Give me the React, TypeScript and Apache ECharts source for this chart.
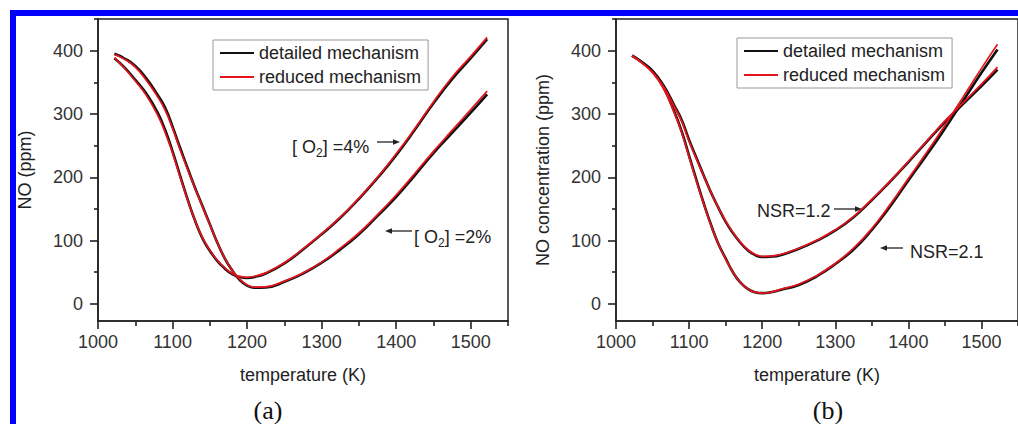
import React, { useEffect, useRef } from "react";
import * as echarts from "echarts";

// Shared temperature grid (K) for all curves
const TEMPERATURE = [
  1022, 1035, 1050, 1065, 1080, 1090, 1100, 1110, 1120, 1130, 1140, 1150, 1160, 1170, 1180, 1190,
  1200, 1210, 1225, 1250, 1275, 1300, 1325, 1350, 1375, 1400, 1425, 1450, 1475, 1500, 1522,
];

// (a) NO (ppm) at [O2] = 4 %
const O2_4_DETAILED = [
  388, 374, 354, 332, 302, 275, 241, 203, 166, 132, 104, 84, 68, 56, 47, 42.5,
  41, 42.5, 48, 64, 86, 110, 136, 166, 199, 235, 275, 317, 355, 388, 418,
];
const O2_4_REDUCED = [
  389, 373, 352, 329, 298, 271, 238, 201, 165, 132, 105, 85, 69, 57, 48, 43.5,
  42, 43.5, 49, 65, 87, 111, 137, 167, 200, 237, 277, 319, 358, 391, 421,
];
// (a) NO (ppm) at [O2] = 2 %
const O2_2_DETAILED = [
  395, 388, 376, 356, 330, 310, 280, 247, 215, 184, 155, 126, 97, 72, 53, 38,
  29, 25.5, 26, 35, 48, 65, 86, 110, 139, 169, 203, 238, 270, 302, 331,
];
const O2_2_REDUCED = [
  394, 387, 374, 353, 327, 306, 277, 244, 213, 183, 154, 125, 97, 72, 53, 39,
  30, 26.5, 27, 36, 49, 66, 88, 112, 141, 172, 206, 241, 274, 307, 336,
];

// (b) NO concentration (ppm) at NSR = 1.2
const NSR_12_DETAILED = [
  392, 382, 368, 345, 313, 290, 259, 231, 203, 176, 152, 130, 112, 97, 85, 77.5,
  74, 74.5, 77, 87, 100, 116, 137, 164, 193, 224, 256, 287, 316, 344, 370,
];
const NSR_12_REDUCED = [
  392, 381, 366, 343, 311, 288, 257, 229, 202, 176, 152, 131, 113, 98, 86, 78.5,
  75, 75.5, 78, 88, 101, 117, 138, 165, 194, 225, 257, 289, 318, 347, 374,
];
// (b) NO concentration (ppm) at NSR = 2.1
const NSR_21_DETAILED = [
  392, 382, 367, 342, 303, 272, 234, 196, 159, 125, 95, 72, 50, 34, 24, 18.5,
  17, 18, 22, 30, 44, 63, 86, 117, 154, 195, 235, 277, 321, 365, 402,
];
const NSR_21_REDUCED = [
  392, 381, 365, 340, 301, 270, 232, 194, 158, 124, 95, 71, 50, 34, 24, 18.5,
  17, 18, 23, 31, 45, 64, 88, 119, 157, 198, 239, 282, 327, 372, 410,
];

const X_MAJOR_TICKS = [1000, 1100, 1200, 1300, 1400, 1500];
const X_MINOR_TICKS = [1050, 1150, 1250, 1350, 1450, 1550];
const Y_MAJOR_TICKS = [0, 100, 200, 300, 400];
const Y_MINOR_TICKS = [50, 150, 250, 350, 450];

const LEGEND_NAMES = ["detailed mechanism", "reduced mechanism"];

const SANS = "'Liberation Sans', Arial, Helvetica, sans-serif";
const SERIF = "'Liberation Serif', 'Times New Roman', serif";
const AXIS_COLOR = "#222";
const BLACK = "#111";
const RED = "#e8141c";

const X_RANGE = { min: 1000, max: 1550 };
const Y_RANGE = { min: -27, max: 450 };

const plain = (v: number) => String(v);

function pairs(values: number[]) {
  return TEMPERATURE.map((t, i) => [t, values[i]]);
}

function xAxesFor(gridIndex: number) {
  const lineStyle = { color: AXIS_COLOR, width: 1.6 };
  return [
    {
      type: "value",
      gridIndex,
      ...X_RANGE,
      position: "bottom",
      name: "temperature (K)",
      nameLocation: "middle",
      nameGap: 45,
      nameTextStyle: { fontSize: 18, color: AXIS_COLOR, fontFamily: SANS },
      axisLine: { show: true, onZero: false, lineStyle },
      axisTick: { show: true, inside: false, length: 8, customValues: X_MAJOR_TICKS, lineStyle },
      axisLabel: {
        customValues: X_MAJOR_TICKS,
        formatter: plain,
        margin: 12,
        fontSize: 18,
        color: "#333",
        fontFamily: SANS,
      },
      splitLine: { show: false },
    },
    {
      type: "value",
      gridIndex,
      ...X_RANGE,
      position: "bottom",
      axisLine: { show: false, onZero: false },
      axisTick: { show: true, inside: false, length: 5, customValues: X_MINOR_TICKS, lineStyle },
      axisLabel: { show: false },
      splitLine: { show: false },
    },
  ];
}

function yAxesFor(gridIndex: number, name: string) {
  const lineStyle = { color: AXIS_COLOR, width: 1.6 };
  return [
    {
      type: "value",
      gridIndex,
      ...Y_RANGE,
      position: "left",
      name,
      nameLocation: "middle",
      nameGap: 64,
      nameTextStyle: { fontSize: 18, color: AXIS_COLOR, fontFamily: SANS },
      axisLine: { show: true, onZero: false, lineStyle },
      axisTick: { show: true, inside: false, length: 8, customValues: Y_MAJOR_TICKS, lineStyle },
      axisLabel: {
        customValues: Y_MAJOR_TICKS,
        formatter: plain,
        margin: 15,
        fontSize: 18,
        color: "#333",
        fontFamily: SANS,
      },
      splitLine: { show: false },
    },
    {
      type: "value",
      gridIndex,
      ...Y_RANGE,
      position: "left",
      axisLine: { show: false, onZero: false },
      axisTick: { show: true, inside: false, length: 4, customValues: Y_MINOR_TICKS, lineStyle },
      axisLabel: { show: false },
      splitLine: { show: false },
    },
  ];
}

function curve(name: string, axisIndex: number, values: number[], color: string, width: number, z: number) {
  return {
    type: "line",
    name,
    xAxisIndex: axisIndex,
    yAxisIndex: axisIndex,
    data: pairs(values),
    symbol: "none",
    showSymbol: false,
    smooth: 0.5,
    silent: true,
    z,
    lineStyle: { color, width },
    itemStyle: { color },
  };
}

function arrow(tail: number, head: number, y: number) {
  const dir = head > tail ? 1 : -1;
  return [
    {
      type: "line",
      shape: { x1: tail, y1: y, x2: head - dir * 4, y2: y },
      style: { stroke: "#222", lineWidth: 1.3 },
      silent: true,
    },
    {
      type: "polygon",
      shape: { points: [[head, y], [head - dir * 7, y - 2.8], [head - dir * 7, y + 2.8]] },
      style: { fill: "#222" },
      silent: true,
    },
  ];
}

function label(x: number, y: number, text: string, rich?: any) {
  return {
    type: "text",
    x,
    y,
    silent: true,
    style: {
      text,
      fill: "#222",
      fontSize: 18,
      fontFamily: SANS,
      align: "left",
      verticalAlign: "middle",
      rich,
    },
  };
}

const O2_RICH = {
  n: { fontSize: 18, fontFamily: SANS, fill: "#222", lineHeight: 24 },
  s: { fontSize: 12, fontFamily: SANS, fill: "#222", lineHeight: 12, verticalAlign: "bottom" },
};

function legendAt(left: number, top: number) {
  return {
    data: LEGEND_NAMES.map((name) => ({ name, icon: "rect" })),
    left,
    top,
    orient: "vertical",
    selectedMode: false,
    padding: [4, 7, 4, 7],
    itemGap: 6,
    itemWidth: 34,
    itemHeight: 2,
    borderColor: "#999",
    borderWidth: 1,
    backgroundColor: "#fff",
    textStyle: { fontSize: 18, color: "#222", fontFamily: SANS, lineHeight: 18 },
  };
}

export default function App() {
  const ref = useRef<HTMLDivElement>(null);

  useEffect(() => {
    if (!ref.current) return;
    const chart = echarts.init(ref.current, undefined, { renderer: "svg" });
    const gridStyle = { show: true, borderColor: AXIS_COLOR, borderWidth: 1.5, backgroundColor: "transparent" };

    chart.setOption({
      animation: false,
      backgroundColor: "#fff",
      grid: [
        { left: 98, top: 19, width: 410, height: 302, ...gridStyle },
        { left: 616, top: 19, width: 410, height: 302, ...gridStyle },
      ],
      xAxis: [...xAxesFor(0), ...xAxesFor(1)],
      yAxis: [...yAxesFor(0, "NO (ppm)"), ...yAxesFor(1, "NO concentration (ppm)")],
      legend: [legendAt(213, 40), legendAt(737, 38)],
      series: [
        curve("detailed mechanism", 0, O2_4_DETAILED, BLACK, 2.6, 2),
        curve("detailed mechanism", 0, O2_2_DETAILED, BLACK, 2.6, 2),
        curve("reduced mechanism", 0, O2_4_REDUCED, RED, 1.7, 3),
        curve("reduced mechanism", 0, O2_2_REDUCED, RED, 1.7, 3),
        curve("detailed mechanism", 2, NSR_12_DETAILED, BLACK, 2.6, 2),
        curve("detailed mechanism", 2, NSR_21_DETAILED, BLACK, 2.6, 2),
        curve("reduced mechanism", 2, NSR_12_REDUCED, RED, 1.7, 3),
        curve("reduced mechanism", 2, NSR_21_REDUCED, RED, 1.7, 3),
      ],
      graphic: {
        elements: [
          label(292, 147, "{n|[ O}{s|2}{n|] =4%}", O2_RICH),
          ...arrow(377, 400, 142),
          label(414, 237, "{n|[ O}{s|2}{n|] =2%}", O2_RICH),
          ...arrow(412, 385, 231),
          label(757, 211, "NSR=1.2"),
          ...arrow(834, 862, 209),
          label(910, 252, "NSR=2.1"),
          ...arrow(903, 880, 248),
          {
            type: "text",
            x: 268,
            y: 410,
            silent: true,
            style: { text: "(a)", fill: "#111", fontSize: 26, fontFamily: SERIF, align: "center", verticalAlign: "middle" },
          },
          {
            type: "text",
            x: 828,
            y: 410,
            silent: true,
            style: { text: "(b)", fill: "#111", fontSize: 26, fontFamily: SERIF, align: "center", verticalAlign: "middle" },
          },
          {
            type: "rect",
            silent: true,
            z: 100,
            shape: { x: 13, y: 13, width: 1200, height: 600 },
            style: { fill: "none", stroke: "#0000ff", lineWidth: 6 },
          },
        ],
      },
    });

    return () => chart.dispose();
  }, []);

  return (
    <div
      ref={ref}
      style={{ position: "absolute", left: 0, top: 0, width: 1018, height: 424, background: "#fff" }}
    />
  );
}
